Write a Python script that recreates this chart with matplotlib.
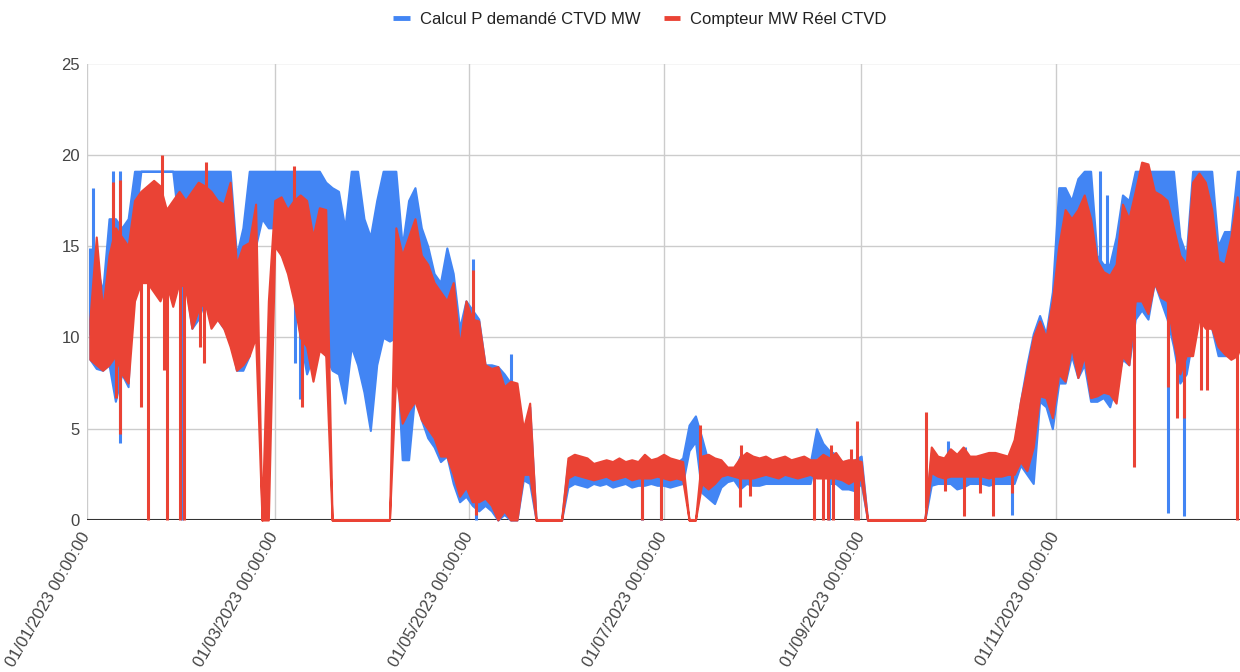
import matplotlib
matplotlib.use("Agg")
import matplotlib.pyplot as plt
import numpy as np
from matplotlib.lines import Line2D

plt.rcParams['font.family'] = ['Liberation Sans', 'DejaVu Sans']

# ---- data ----
# core band (min / max) of each 2-day bin, bins start at these day-of-year values
bin_start_days = list(range(0, 366, 2))   # 183 bins

red_low = [
    8.8, 8.5, 8.2, 8.5, 9, 8, 7.5, 12, 13, 13,
    12.5, 12, 13, 11.7, 13, 12.7, 10.5, 11.5, 12, 10.5,
    11, 10.5, 9.5, 8.2, 8.5, 9, 10, 0, 0, 15,
    14.5, 13.5, 12, 10, 9.5, 7.6, 9.3, 9, 0, 0,
    0, 0, 0, 0, 0, 0, 0, 0, 8, 5.3,
    6, 6.5, 5.5, 5, 4.5, 3.5, 3.5, 2.5, 1.3, 1.8,
    1, 1, 1.2, 0.8, 0, 0.5, 0, 0, 2.5, 2.5,
    0, 0, 0, 0, 0, 2.3, 2.5, 2.4, 2.3, 2.2,
    2.3, 2.4, 2.2, 2.3, 2.4, 2.2, 2.3, 2.3, 2.3, 2.4,
    2.3, 2.2, 2.3, 2.2, 0, 0, 2.0, 1.7, 2.0, 2.4,
    2.5, 2.4, 2.3, 2.3, 2.3, 2.4, 2.5, 2.4, 2.3, 2.5,
    2.4, 2.3, 2.4, 2.5, 2.3, 2.3, 2.3, 2.3, 2.2, 2.0,
    2.2, 2.2, 0, 0, 0, 0, 0, 0, 0, 0,
    0, 0, 2.6, 2.4, 2.3, 2.4, 2.4, 2.4, 2.4, 2.4,
    2.4, 2.3, 2.4, 2.4, 2.5, 2.5, 3.2, 2.7, 4.0, 6.8,
    6.7, 5.6, 8, 7.6, 9.5, 7.8, 9, 6.7, 6.8, 7,
    6.9, 6.4, 9, 8.5, 12, 12, 11.3, 13, 12.2, 12,
    9.8, 8, 9, 9, 11, 10.5, 10.5, 9.5, 9.1, 8.8,
    9, 10, 10,
]

red_high = [
    11, 15.5, 11.5, 14.5, 16, 15.5, 15, 17.5, 18, 18.3,
    18.6, 18.3, 17, 17.5, 18, 17.5, 18, 18.5, 18.3, 18,
    17.5, 17.3, 18.5, 14, 15, 15.2, 17.3, 0, 12, 17.5,
    17.7, 17, 17.5, 17.8, 17.5, 15.5, 17.1, 17, 0, 0,
    0, 0, 0, 0, 0, 0, 0, 0, 16, 14.5,
    15.5, 16.5, 14.5, 14, 13, 12.5, 12, 13, 9.5, 12,
    11, 10.9, 8.5, 8.3, 8.4, 7.3, 7.6, 7.5, 5, 6.4,
    0, 0, 0, 0, 0, 3.4, 3.6, 3.5, 3.4, 3.1,
    3.2, 3.3, 3.2, 3.4, 3.2, 3.3, 3.2, 3.6, 3.3, 3.4,
    3.6, 3.4, 3.3, 3.2, 0, 0, 3.5, 3.6, 3.4, 3.3,
    2.9, 2.9, 3.4, 3.7, 3.5, 3.4, 3.5, 3.3, 3.4, 3.5,
    3.3, 3.4, 3.5, 3.3, 3.3, 3.6, 3.4, 3.7, 3.2, 3.3,
    3.3, 3.2, 0, 0, 0, 0, 0, 0, 0, 0,
    0, 0, 4.0, 3.5, 3.4, 3.9, 3.6, 4.0, 3.5, 3.5,
    3.6, 3.7, 3.7, 3.6, 3.5, 4.4, 6.5, 8.2, 10, 10.9,
    10, 12, 15, 17, 16.5, 17, 17.8, 16.5, 14.2, 13.6,
    13.4, 14, 17.3, 16.5, 18, 19.6, 19.5, 18, 17.8, 17.5,
    16, 14.5, 14, 18.5, 19, 18.5, 17, 14.2, 14, 15.5,
    17.7, 14, 14,
]

blue_low = [
    8.8, 8.3, 8.2, 8.5, 6.5, 8, 7.3, 16, 19.1, 19.1,
    19.1, 19.1, 19.1, 19.1, 16, 13, 10.5, 11, 12, 11,
    11, 10.5, 10, 8.2, 8.2, 9, 15, 16.5, 16, 16,
    14.5, 14, 13, 10, 8, 9, 9.5, 9, 8.2, 8,
    6.4, 9.5, 8.5, 7, 4.9, 8.5, 10, 9.8, 10, 3.3,
    3.3, 7, 5.5, 4.5, 4, 3.2, 3.5, 2, 1, 1.3,
    0.8, 0.5, 0.8, 0.5, 0, 0.3, 0, 0, 2.2, 2,
    0, 0, 0, 0, 0, 1.8, 2.0, 1.9, 1.8, 2.0,
    1.9, 2.0, 1.8, 1.9, 2.0, 1.8, 1.9, 1.9, 2.0, 1.9,
    1.9, 1.8, 1.9, 2.0, 3.8, 4.3, 1.5, 1.2, 0.9, 1.8,
    2.1, 2.2, 1.7, 2.0, 1.9, 1.9, 2.0, 2.0, 2.0, 2.0,
    2.0, 2.0, 2.0, 2.0, 3.5, 3.2, 2.0, 2.0, 1.7, 1.7,
    1.6, 2.0, 0, 0, 0, 0, 0, 0, 0, 0,
    0, 0, 1.9, 2.0, 2.0, 2.0, 1.7, 1.8, 2.0, 2.0,
    2.0, 1.9, 2.0, 2.0, 2.0, 2.0, 3.0, 2.5, 2.0, 6.5,
    6.2, 5.0, 7.5, 7.5, 9, 7.8, 8.5, 6.5, 6.5, 6.7,
    6.2, 7.5, 8.8, 8.5, 11, 11.5, 11, 13, 12, 11,
    9.5, 7.5, 8, 10, 12, 12, 10.5, 9, 9, 9,
    9.5, 10, 10,
]

blue_high = [
    11.5, 14, 12.5, 16.5, 16.5, 16, 16.5, 19.1, 19.1, 19.1,
    19.1, 19.1, 19.1, 19.1, 19.1, 19.1, 19.1, 19.1, 19.1, 19.1,
    19.1, 19.1, 19.1, 14.5, 16, 19.1, 19.1, 19.1, 19.1, 19.1,
    19.1, 19.1, 19.1, 19.1, 19.1, 19.1, 19.1, 18.5, 18.2, 18,
    16, 19.1, 19.1, 16.5, 15.5, 17.5, 19.1, 19.1, 19.1, 15,
    17.5, 18.2, 16, 15, 13.5, 13, 14.9, 13.5, 10.5, 12,
    11.5, 11, 8.5, 8.5, 8.4, 8, 7.5, 5, 4.2, 6.2,
    0, 0, 0, 0, 0, 3.2, 3.3, 3.3, 3.2, 3.0,
    3.1, 3.1, 3.0, 3.2, 3.1, 3.1, 3.0, 3.3, 3.1, 3.2,
    3.3, 3.2, 3.1, 3.4, 5.2, 5.7, 4.5, 3.2, 3.0, 3.1,
    2.6, 2.6, 3.5, 3.3, 3.3, 3.2, 3.3, 3.1, 3.2, 3.2,
    3.1, 3.2, 3.2, 3.1, 5.0, 4.2, 3.8, 3.6, 3.2, 3.0,
    3.3, 3.5, 0, 0, 0, 0, 0, 0, 0, 0,
    0, 0, 3.7, 3.3, 3.3, 3.3, 3.4, 3.4, 3.4, 3.3,
    3.4, 3.4, 3.4, 3.4, 3.4, 4.0, 6.5, 8.5, 10.2, 11.2,
    10.2, 12.5, 18.2, 18.2, 17.5, 18.7, 19.1, 19.1, 14.5, 14,
    14, 15.5, 17.8, 17.5, 19.1, 19.1, 19.1, 19.1, 19.1, 19.1,
    19.1, 15.5, 14.5, 19.1, 19.1, 19.1, 19.1, 15, 15.8, 15.8,
    19.1, 19.1, 15,
]

# isolated short spikes (day-of-year, value)
red_spike_days = [8.3, 9.2, 10.3, 10.5, 17.1, 19.2, 23.6, 24.4, 25.2, 29.2, 30.4,
                  35.4, 36.7, 37.3, 65.2, 67.5, 121.3, 122.0, 174.1, 180.3, 192.3,
                  205.0, 205.3, 208.0, 228.2, 230.9, 232.6, 233.6, 234.2, 239.8, 241.1,
                  241.6, 242.1, 263.4, 269.3, 275.3, 280.3, 284.3, 290.2, 328.7, 339.2,
                  342.2, 344.4, 349.6, 351.6, 360.8]
red_spike_vals = [18.5, 6.7, 18.6, 4.7, 6.2, 0, 20, 8.2, 0, 0, 0,
                  9.5, 8.6, 19.6, 19.4, 6.2, 13.7, 0.3, 0, 0, 5.2,
                  0.7, 4.1, 1.3, 0, 0, 0, 4.1, 0, 3.9, 0,
                  5.4, 0, 5.9, 1.6, 0.2, 1.5, 0.2, 1.5, 2.9, 7.3,
                  5.6, 5.6, 7.1, 7.1, 0]
blue_spike_days = [0.9, 2.0, 8.3, 10.3, 10.6, 29.8, 65.4, 66.9, 121.3, 122.0,
                   133.0, 174.1, 180.3, 232.8, 264.0, 270.2, 275.6, 290.2, 317.9, 320.0,
                   339.2, 344.4]
blue_spike_vals = [14.9, 18.2, 19.1, 19.1, 4.2, 0, 8.6, 6.6, 14.3, 0,
                   9.1, 0, 0, 0, 1.2, 4.3, 4.0, 0.3, 19.1, 17.8,
                   0.4, 0.2]

tick_days = [0, 59, 120, 181, 243, 304]
tick_labels = ['01/01/2023 00:00:00', '01/03/2023 00:00:00', '01/05/2023 00:00:00',
               '01/07/2023 00:00:00', '01/09/2023 00:00:00', '01/11/2023 00:00:00']
y_ticks = [0, 5, 10, 15, 20, 25]
series_names = ['Calcul P demandé CTVD MW', 'Compteur MW Réel CTVD']
series_colors = ['#4285F4', '#EA4335']

W, H = 1240, 672
fig = plt.figure(figsize=(W / 100, H / 100), dpi=100)
x0, x1 = 86.7, 86.7 + 365 * 3.187
y0, y1 = 520, 63.5
ax = fig.add_axes([x0 / W, (H - y0) / H, (x1 - x0) / W, (y0 - y1) / H])

centers = np.array(bin_start_days) + 1.0
series = [
    (blue_low, blue_high, blue_spike_days, blue_spike_vals, series_colors[0], 3),
    (red_low, red_high, red_spike_days, red_spike_vals, series_colors[1], 5),
]
for lo, hi, sd, sv, c, z in series:
    lo = np.array(lo, float)
    hi = np.array(hi, float)
    ax.fill_between(centers, lo, hi, facecolor=c, edgecolor=c, linewidth=1.5,
                    zorder=z, clip_on=False)
    base = np.interp(sd, centers, (lo + hi) / 2)
    ax.vlines(sd, sv, base, colors=c, linewidth=2.2, zorder=z + 0.5, clip_on=False)

ax.set_xlim(0, 365)
ax.set_ylim(0, 25)
ax.set_yticks(y_ticks)
ax.set_xticks(tick_days)
ax.set_xticklabels(tick_labels, rotation=60, ha='right', va='center', rotation_mode='anchor')
ax.grid(True, color='#cccccc', lw=1.0, zorder=0)
ax.set_axisbelow(True)
for s in ax.spines.values():
    s.set_visible(False)
ax.axhline(0, color='#333333', lw=1.5, zorder=2)
ax.tick_params(axis='both', length=0, labelsize=12, colors='#444444')
ax.tick_params(axis='y', pad=5)
ax.tick_params(axis='x', pad=10)

handles = [Line2D([], [], lw=3.5, color=c, solid_capstyle='butt') for c in series_colors]
fig.legend(handles, series_names, loc='center', bbox_to_anchor=(640 / W, 1 - 19.5 / H), ncol=2,
           frameon=False, fontsize=12, handletextpad=0.6, columnspacing=1.4, labelcolor='#222222',
           handlelength=1.0)

fig.savefig('out.png', dpi=100)
